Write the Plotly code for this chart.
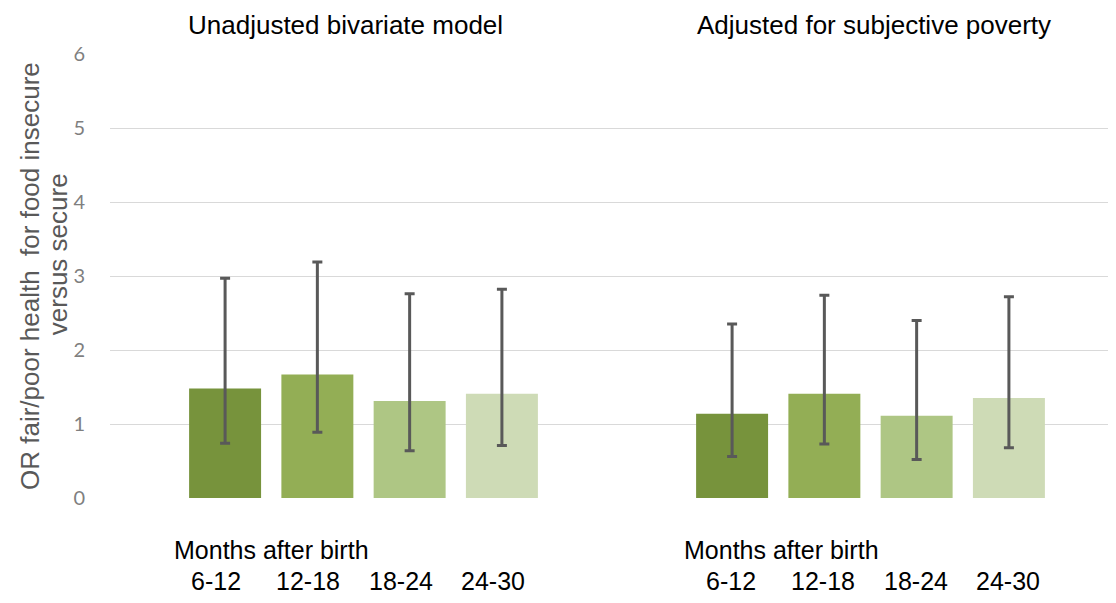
import numpy as np
import plotly.graph_objects as go

models = ["Unadjusted bivariate model", "Adjusted for subjective poverty"]
periods = ["6-12", "12-18", "18-24", "24-30"]
# odds ratios per period: [unadjusted, adjusted]
or_values = {
    "6-12": [1.48, 1.14],
    "12-18": [1.67, 1.41],
    "18-24": [1.31, 1.11],
    "24-30": [1.41, 1.35],
}
ci_lower = {
    "6-12": [0.74, 0.56],
    "12-18": [0.89, 0.73],
    "18-24": [0.64, 0.52],
    "24-30": [0.71, 0.68],
}
ci_upper = {
    "6-12": [2.97, 2.35],
    "12-18": [3.19, 2.74],
    "18-24": [2.76, 2.40],
    "24-30": [2.82, 2.72],
}
x_label = "Months after birth"
y_title_lines = ["OR fair/poor health  for food insecure", "versus secure"]
y_ticks = [0, 1, 2, 3, 4, 5, 6]

colors = ["#77933C", "#93AE55", "#AEC684", "#CEDBB6"]

BARGAP = 0.272
BARGROUPGAP = 0.22

fig = go.Figure()
for i, p in enumerate(periods):
    v = np.array(or_values[p])
    lo = np.array(ci_lower[p])
    hi = np.array(ci_upper[p])
    fig.add_trace(go.Bar(
        x=models, y=v, name=p,
        marker=dict(color=colors[i], line=dict(width=0)),
        error_y=dict(type="data", symmetric=False, array=hi - v, arrayminus=v - lo,
                     color="#595959", thickness=3, width=5),
    ))

annotations = []
font_main = "Liberation Sans, Arial, sans-serif"
n = len(periods)
slot = (1 - BARGAP) / n
title_shift = [-18, 3]
label_shift = [-9, -1]
months_shift = [-7, -4]
for g, m in enumerate(models):
    annotations.append(dict(
        x=g, y=1.0, xref="x", yref="paper", text=m, showarrow=False,
        xshift=title_shift[g], yshift=29, yanchor="middle",
        font=dict(family=font_main, size=26, color="#000000"),
    ))
    annotations.append(dict(
        x=g - (1 - BARGAP) / 2, y=-0.117, xref="x", yref="paper", text=x_label,
        showarrow=False, xanchor="left", yanchor="middle",
        xshift=months_shift[g],
        font=dict(family=font_main, size=25, color="#000000"),
    ))
    for i, p in enumerate(periods):
        annotations.append(dict(
            x=g - (1 - BARGAP) / 2 + slot * (i + 0.5), y=-0.187, xref="x", yref="paper",
            text=p, showarrow=False, xanchor="center", yanchor="middle",
            xshift=label_shift[g],
            font=dict(family=font_main, size=25, color="#000000"),
        ))

# y-axis title, two rotated lines
title_pos = [(-0.0789, 0.5), (-0.0513, 0.549)]
for line, (px, py) in zip(y_title_lines, title_pos):
    annotations.append(dict(
        x=px, y=py, xref="paper", yref="paper", text=line, showarrow=False,
        textangle=-90, xanchor="center", yanchor="middle",
        font=dict(family=font_main, size=26, color="#595959"),
    ))

fig.update_layout(
    width=1116, height=603,
    margin=dict(l=102, r=0, t=46, b=113),
    paper_bgcolor="white", plot_bgcolor="white",
    barmode="group", bargap=BARGAP, bargroupgap=BARGROUPGAP,
    showlegend=False,
    font=dict(family=font_main),
    annotations=annotations,
    xaxis=dict(showticklabels=False, showgrid=False, showline=False, zeroline=False,
               range=[-0.5, 1.5], ticks="", automargin=False),
    yaxis=dict(range=[0, 6], tickvals=y_ticks, showgrid=True, gridcolor="#D9D9D9",
               gridwidth=1.3, zeroline=False, showline=False, automargin=False,
               ticks="outside", ticklen=20, tickcolor="rgba(0,0,0,0)",
               tickfont=dict(family="Lato, Liberation Sans, sans-serif", size=20, color="#7F7F7F")),
)

fig.write_html("out.html")
